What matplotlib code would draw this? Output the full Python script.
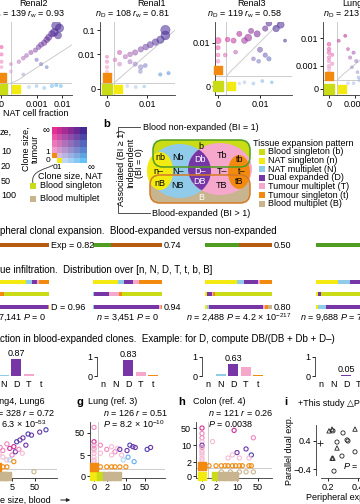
import numpy as np
import matplotlib.pyplot as plt
from matplotlib.patches import Ellipse, FancyBboxPatch, Rectangle, PathPatch
from matplotlib.path import Path

plt.rcParams['font.family'] = ['Liberation Sans', 'DejaVu Sans']
plt.rcParams['font.size'] = 6.5
plt.rcParams['mathtext.fontset'] = 'custom'
plt.rcParams['mathtext.rm'] = 'Liberation Sans'
plt.rcParams['mathtext.it'] = 'Liberation Sans:italic'
plt.rcParams['axes.linewidth'] = 0.6
plt.rcParams['axes.edgecolor'] = '#333333'
for a in ('xtick', 'ytick'):
    plt.rcParams[a + '.major.width'] = 0.6
    plt.rcParams[a + '.major.size'] = 2
    plt.rcParams[a + '.major.pad'] = 1.5
    plt.rcParams[a + '.labelsize'] = 6.5

W, H = 360, 504

# colours of the tissue expansion pattern
COL = {'n': '#f2ea10', 'N': '#90cbea', 'D': '#7636a6', 'T': '#f5a8cc',
       't': '#f28a10', 'b': '#c9dc16', 'B': '#c8b48e'}
GREEN, BROWN, GRAY = '#4f9d22', '#b65c12', '#cccccc'
PT = {'p': '#ef88bd', 'l': '#f5bcd6', 'm': '#d22f97', 'v': '#6c36a8',
      'u': '#4a40b0', 'b': '#62aef0', 'c': '#a9d5f2', 'o': '#f28a10',
      'k': '#c8b48e', 'g': '#c9dc16', 'y': '#f2ea10'}

# ---- panel a data: (NAT fraction, tumour fraction, blood clone size) ----
RENAL2_X = [0.006, 0.008, 0.005, 0.007, 0.004, 0.003, 0.0025, 0.002, 0.0015, 0.0012, 0.0009,
            0.0006, 0.0004, 0.0003, 0.0002, 0.001, 0.0015, 0.0025, 0, 0, 0, 0, 0, 0.0001,
            0.0001, 0.0003, 0.0005, 0.001, 0.002, 0.004, 0.006, 0.009]
RENAL2_Y = [0.15, 0.12, 0.08, 0.06, 0.07, 0.05, 0.04, 0.03, 0.025, 0.02, 0.015,
            0.012, 0.009, 0.007, 0.005, 0.006, 0.004, 0.003, 0.02, 0.01, 0.005, 0.003, 0.0015, 0.002,
            0.004, 0.0015, 0.0002, 0.0003, 0.0001, 0.0003, 0.0004, 0.0003]
RENAL2_S = [45, 35, 30, 25, 22, 20, 18, 16, 14, 12, 10, 10, 8, 8, 7, 6, 6, 5, 6, 6, 6, 5, 5, 5,
            5, 5, 5, 5, 5, 6, 6, 5]

RENAL1_X = [0.045, 0.045, 0.03, 0.02, 0.013, 0.009, 0.006, 0.0038, 0.0025, 0.0017, 0.0011,
            0.0007, 0.0011, 0.0025, 0.0038, 0.006, 0.0087, 0.0058, 0.0296, 0.058, 0.002, 0.004,
            0.008, 0, 0, 0, 0, 0.0003, 0]
RENAL1_Y = [0.1, 0.06, 0.04, 0.032, 0.025, 0.02, 0.016, 0.012, 0.01, 0.008, 0.012,
            0.006, 0.004, 0.005, 0.004, 0.003, 0.0035, 0.002, 0.0015, 0.0017, 0.0003, 0.0002,
            0.00025, 0.003, 0.005, 0.008, 0.002, 0.0015, 0.0012]
RENAL1_S = [45, 40, 28, 22, 20, 18, 15, 15, 12, 10, 10, 8, 8, 10, 10, 12, 8, 8, 6, 6, 5, 5,
            4, 6, 6, 5, 5, 5, 5]

RENAL3_X = [0.05, 0.035, 0.02, 0.015, 0.008, 0.005, 0.004, 0.003, 0.002, 0.0013, 0.0008,
            0, 0, 0, 0, 0.0006, 0.0015, 0.01, 0.015, 0.02, 0.009, 0.006, 0.07, 0.003,
            0.006, 0.012, 0.002, 0.025]
RENAL3_Y = [0.04, 0.03, 0.045, 0.03, 0.02, 0.025, 0.015, 0.012, 0.02, 0.012, 0.013,
            0.012, 0.007, 0.004, 0.0025, 0.004, 0.005, 0.006, 0.004, 0.003, 0.0025, 0.003,
            0.012, 0.0003, 0.0002, 0.0004, 0.0002, 0.0003]
RENAL3_S = [25, 22, 18, 15, 20, 14, 25, 18, 14, 14, 12, 20, 10, 8, 8, 8, 8, 14, 10, 10, 8, 8,
            5, 5, 5, 5, 4, 4]

LUNG_X = [0, 0, 0, 0, 0, 0, 0, 0, 0.0001, 0.0001, 0.0003, 0.0005, 0.0006, 0.0007, 0.0009,
          0.0011, 0.0008, 0.0012, 0.0013, 0.0006, 0.0009, 0.0014]
LUNG_Y = [0.006, 0.004, 0.003, 0.002, 0.0015, 0.001, 0.0008, 0.0006, 0.0025, 0.0012, 0.008,
          0.012, 0.004, 0.002, 0.003, 0.0015, 0.0009, 0.0006, 0.0004, 0.0002, 0.0002, 0.0003]
LUNG_S = [8, 8, 8, 7, 7, 7, 6, 6, 6, 6, 5, 5, 5, 6, 6, 6, 5, 5, 5, 5, 5, 5]

# ---- panel c/d/e data ----
EXP_FRACTION = [0.82, 0.74, 0.50, 0.33]
EXP_TEXT = ['Exp = 0.82', '0.74', '0.50', '']
DIST_KEYS = ['n', 'N', 'D', 'T', 't', 'b', 'B']
DIST_ROW1 = [[0.67, 0.087, 0.072, 0.03, 0.141, 0, 0],
             [0.36, 0.087, 0.13, 0.087, 0.336, 0, 0],
             [0.48, 0.10, 0.21, 0.03, 0.18, 0, 0],
             [0.32, 0.17, 0.25, 0.06, 0.20, 0, 0]]
DIST_ROW2 = [[0.06, 0.04, 0.12, 0.07, 0.06, 0.65, 0],
             [0.0, 0.015, 0.22, 0.145, 0.04, 0.58, 0],
             [0.03, 0.0, 0.075, 0.02, 0.025, 0.85, 0],
             [0.03, 0.0, 0.04, 0.0, 0.0, 0.93, 0]]
DIST_ROW3 = [[0.01, 0.01, 0.96, 0.005, 0.015, 0, 0],
             [0.005, 0.01, 0.94, 0.03, 0.015, 0, 0],
             [0.03, 0.03, 0.80, 0.03, 0.05, 0, 0.06],
             [0.03, 0.12, 0.80, 0.03, 0.02, 0, 0]]
D_TEXT = ['D = 0.96', '0.94', '0.80', '']
N_TEXT = ['$n$ = 7,141 $P$ = 0', '$n$ = 3,451 $P$ = 0',
          '$n$ = 2,488 $P$ = 4.2 × 10$^{-217}$', '$n$ = 9,688 $P$ = 7.0 × 10$^{-63}$']
E_KEYS = ['n', 'N', 'D', 'T', 't']
E_VALUES = [[0.01, 0.03, 0.87, 0.08, 0.02],
            [0.01, 0.01, 0.83, 0.20, 0.05],
            [0.01, 0.08, 0.63, 0.45, 0.05],
            [0.01, 0.02, 0.05, 0.01, 0.01]]
E_TEXT = ['0.87', '0.83', '0.63', '0.05']

# ---- bottom panels: (blood clone size, tumour clone size, colour key) ----
F_PTS = [(150, 70, 'u'), (80, 55, 'v'), (25, 45, 'u'), (35, 40, 'v'), (15, 30, 'v'), (11, 24, 'v'),
         (8, 20, 'u'), (20, 14, 'v'), (6, 12, 'm'), (4, 10, 'm'), (3, 16, 'p'), (2, 8, 'p'),
         (1.3, 6, 'l'), (2, 4, 'l'), (3, 3, 'l'), (5, 5, 'p'), (7, 7, 'v'), (10, 9, 'p'),
         (14, 6, 'l'), (1.5, 11, 'p'), (4, 3, 'c'), (6, 2.5, 'o'), (1.2, 1.5, 'o'), (2, 1.5, 'o'),
         (3, 1.5, 'o'), (45, 0.7, 'k')]
F_SQ = [(1, 0, 'g'), (2, 0, 'k'), (3, 0, 'k'), (1, 1.5, 'o')]
G_PTS = [(0, 90, 'p'), (0, 20, 'm'), (0, 14, 'p'), (0, 10, 'p'), (0, 8, 'l'), (0, 6, 'l'),
         (0, 4, 'l'), (0, 3, 'l'), (0, 2.5, 'l'), (1, 14, 'p'), (1, 6, 'l'), (2, 9, 'p'),
         (3, 12, 'l'), (4, 7, 'p'), (5, 10, 'l'), (6, 9, 'v'), (11, 8, 'v'), (14, 14, 'u'),
         (18, 12, 'v'), (22, 11, 'v'), (60, 9, 'u'), (80, 11, 'v'), (12, 4, 'b'), (8, 3, 'c'),
         (20, 2.5, 'b'), (1, 1.5, 'o'), (2, 1.5, 'o'), (3, 1.5, 'o'), (4, 1.5, 'o'),
         (6, 1.5, 'o'), (10, 1.5, 'o'), (3, 5, 'l'), (7, 5, 'l')]
G_SQ = [(0, 0, 'y'), (1, 0, 'g'), (2, 0, 'k'), (3, 0, 'k'), (5, 0, 'k'), (0, 1.5, 'o')]
H_PTS = [(0, 50, 'm'), (0, 30, 'p'), (0, 20, 'p'), (0, 14, 'l'), (0, 10, 'v'), (0, 8, 'p'),
         (0, 6, 'l'), (0, 5, 'l'), (0, 4, 'l'), (0, 3, 'l'), (0, 2.5, 'l'), (1.5, 14, 'l'),
         (8, 40, 'm'), (35, 20, 'p'), (10, 5, 'v'), (20, 7, 'v'), (30, 4, 'u'), (5, 3, 'l'),
         (7, 4, 'l'), (12, 3, 'l'), (25, 3, 'l'), (1, 1.5, 'o'), (2, 1.5, 'o'), (3, 1.5, 'o'),
         (4, 1.5, 'o'), (5, 1.5, 'o'), (7, 1.5, 'o'), (9, 1.5, 'o'), (12, 1.5, 'o'),
         (15, 1.5, 'o'), (25, 1.5, 'o'), (30, 1.5, 'o'), (3, 0.6, 'k'), (6, 0.6, 'k'),
         (12, 0.6, 'k'), (20, 0.6, 'k'), (35, 0.6, 'k')]
H_SQ = [(0, 0, 'y'), (2, 0, 'g'), (3, 0, 'k'), (5, 0, 'k'), (8, 0, 'k'), (0, 1.5, 'o')]

# ---- panel i: peripheral vs parallel dual expansion ----
I_TRI_X = [0.207, 0.227, 0.38, 0.26, 0.233, 0.227]
I_TRI_Y = [0.69, 0.74, 0.74, 0.20, -0.09, -0.09]
I_CIR_X = [0.233, 0.30, 0.26, 0.327, 0.333, 0.38, 0.293, 0.24]
I_CIR_Y = [0.69, 0.63, 0.37, 0.43, 0.40, 0.09, -0.03, -0.46]
I_PLUS = (0.147, 0.34)

fig = plt.figure(figsize=(3.6, 5.04), dpi=100)
ov = fig.add_axes([0, 0, 1, 1])
ov.set_xlim(0, W)
ov.set_ylim(H, 0)
ov.axis('off')


def box(x0, y0, x1, y1):
    ax = fig.add_axes([x0 / W, 1 - y1 / H, (x1 - x0) / W, (y1 - y0) / H])
    ax.patch.set_alpha(0)
    return ax


def T(x, y, s, **kw):
    kw.setdefault('va', 'center')
    return fig.text(x / W, 1 - y / H, s, **kw)


def tf(v, L, lsa):
    v = np.asarray(v, float)
    a = np.abs(v)
    return np.sign(v) * np.where(a <= L, a / L * lsa, lsa + np.log10(np.maximum(a, L) / L))


def tinv(t, L, lsa):
    a = abs(t)
    v = a / lsa * L if a <= lsa else L * 10 ** (a - lsa)
    return float(np.sign(t) * v)


def lims(cal, L, p0, p1, lsa):
    (v1, q1), (v2, q2) = cal
    t1, t2 = tf([v1, v2], L, lsa)
    k = (q2 - q1) / (t2 - t1)
    return tinv(t1 + (p0 - q1) / k, L, lsa), tinv(t1 + (p1 - q1) / k, L, lsa)


def mix(u, v):
    c00 = np.array([0.98, 0.90, 0.95])
    c01 = np.array([0.90, 0.18, 0.58])
    c10 = np.array([0.40, 0.76, 0.96])
    c11 = np.array([0.28, 0.16, 0.58])
    return (1 - u) * (1 - v) * c00 + (1 - u) * v * c01 + u * (1 - v) * c10 + u * v * c11


def symlog_axes(bx, Lx, Ly, lsx, lsy, xcal, ycal):
    ax = box(*bx)
    ax.set_xscale('symlog', linthresh=Lx, linscale=lsx)
    ax.set_yscale('symlog', linthresh=Ly, linscale=lsy)
    ax.set_xlim(*lims(xcal, Lx, bx[0], bx[2], lsx / 0.9))
    ax.set_ylim(*lims(ycal, Ly, bx[3], bx[1], lsy / 0.9))
    ax.spines[['top', 'right']].set_visible(False)
    ax.minorticks_off()
    return ax


def panel_a(bx, xs, ys, ss, Lx, Ly, xcal, ycal, xt, yt, thr, sq_y):
    ax = symlog_axes(bx, Lx, Ly, 0.5, 0.5, xcal, ycal)
    xm, ym = ax.get_xlim()[1], ax.get_ylim()[1]
    u = np.clip(tf(xs, Lx, 0.556) / tf(xm, Lx, 0.556) * 1.3, 0, 1)
    v = np.clip(tf(ys, Ly, 0.556) / tf(ym, Ly, 0.556) * 1.3, 0, 1)
    cols = [mix(a, b) for a, b in zip(u, v)]
    ax.axhline(thr[1], color=GRAY, lw=0.7, zorder=1)
    ax.axvline(thr[0], color=GRAY, lw=0.7, zorder=1)
    d = np.geomspace(thr[0], xm, 50)
    ax.plot(d, np.geomspace(thr[1], xm, 50), color=GRAY, lw=0.7, zorder=1)
    ax.scatter(xs, ys, s=ss, c=cols, alpha=0.55, lw=0.4, edgecolors=cols, zorder=2)
    ax.scatter([0, 0], [sq_y, 0], marker='s', s=[40, 55],
               c=[COL['t'], COL['b']], zorder=3, clip_on=False)
    ax.scatter([thr[0] * 1.6], [0], marker='s', s=40, c=[COL['n']], zorder=3, clip_on=False)
    ax.set_xticks([v for v, _ in xt], [s for _, s in xt])
    ax.set_yticks([v for v, _ in yt], [s for _, s in yt])
    return ax


panel_a((-40, 22, 72, 95), RENAL2_X, RENAL2_Y, RENAL2_S, 0.00015, 0.00137,
        ((0, 1.5), (0.01, 62)), ((0, 89), (0.1, 30)),
        [(0, '0'), (0.001, '0.001'), (0.01, '0.01')], [], (0.0001, 0.0006), 0.0012)
panel_a((100, 22, 175, 95), RENAL1_X, RENAL1_Y, RENAL1_S, 0.00137, 0.00137,
        ((0, 107), (0.01, 147)), ((0, 89), (0.1, 30)),
        [(0, '0'), (0.01, '0.01')], [(0, '0'), (0.01, '0.01'), (0.1, '0.1')],
        (0.0006, 0.0006), 0.0012)
panel_a((215, 22, 292, 95), RENAL3_X, RENAL3_Y, RENAL3_S, 0.00137, 0.00137,
        ((0, 218), (0.01, 260)), ((0, 86), (0.01, 43)),
        [(0, '0'), (0.01, '0.01')], [(0, '0'), (0.01, '0.01')], (0.0007, 0.0008), 0.0013)
panel_a((323, 22, 400, 95), LUNG_X, LUNG_Y, LUNG_S, 0.00054, 0.00054,
        ((0, 329), (0.001, 355)), ((0, 89), (0.01, 38)),
        [(0, '0'), (0.001, '0.001')], [(0, '0'), (0.001, '0.001'), (0.01, '0.01')],
        (0.00025, 0.0003), 0.00045)

T(33, 3, 'Renal2', ha='center')
T(65, 14, '$n_\\mathrm{D}$ = 139 $r_\\mathrm{w}$ = 0.93', ha='right')
T(152, 3, 'Renal1', ha='center')
T(170, 14, '$n_\\mathrm{D}$ = 108 $r_\\mathrm{w}$ = 0.81', ha='right')
T(251, 3, 'Renal3', ha='center')
T(282, 14, '$n_\\mathrm{D}$ = 119 $r_\\mathrm{w}$ = 0.58', ha='right')
T(342, 3, 'Lung1', ha='left')
T(323, 14, '$n_\\mathrm{D}$ = 213 $r_\\mathrm{w}$ = 0.76', ha='left')
T(3, 113, 'NAT cell fraction', ha='left')

# ---- clone size legend ----
T(0, 132, 'Clone si', ha='right')
T(0, 132, 'ze,', ha='left')
for lab, yy in zip(['10', '20', '50', '100'], [152, 167, 181, 196]):
    T(1, yy, lab, ha='left')

gx = [52, 57, 62, 68, 74, 80, 87]
gy = [163, 158, 153, 147, 140, 134, 127]
for i in range(6):
    for j in range(6):
        if i == 0 and j == 0:
            continue
        if i == 1 and j == 0:
            c = COL['t']
        elif i == 0 and j == 1:
            c = COL['n']
        else:
            c = mix(j / 5, i / 5)
        ov.add_patch(Rectangle((gx[j], gy[i + 1]), gx[j + 1] - gx[j], gy[i] - gy[i + 1],
                               fc=c, ec='none'))
T(46, 130, '∞', ha='center', fontsize=7)
T(50, 152, '1', ha='right', fontsize=6)
T(50, 161, '0', ha='right', fontsize=6)
T(57, 168, '01', ha='center', fontsize=6)
T(91, 167, '∞', ha='center', fontsize=7)
T(31, 149, 'Clone size,\ntumour', ha='center', rotation=90, linespacing=1.0)
T(70, 176, 'Clone size, NAT', ha='center')
ov.add_patch(PathPatch(Path([(33, 183), (30, 170), (48, 169), (53, 165)],
                            [Path.MOVETO, Path.CURVE4, Path.CURVE4, Path.CURVE4]),
                       fc='none', ec='#333333', lw=0.6))
ov.add_patch(Rectangle((30, 183), 6, 6, fc=COL['b'], ec='none'))
T(40, 186, 'Blood singleton', ha='left')
ov.add_patch(Rectangle((30, 196), 6, 6, fc=COL['B'], ec='none'))
T(40, 199, 'Blood multiplet', ha='left')

# ---- panel b: diagram ----
T(107, 124, 'b', ha='center', fontweight='bold', fontsize=8)
ov.add_patch(FancyBboxPatch((153, 140), 97, 27, boxstyle='round,pad=0,rounding_size=10',
                            fc=COL['b'], ec='none'))
ov.add_patch(FancyBboxPatch((150, 175), 100, 28, boxstyle='round,pad=0,rounding_size=10',
                            fc=COL['B'], ec='none'))
ov.add_patch(Ellipse((180, 171), 62, 54, fc=COL['N'], ec='none'))
ov.add_patch(Ellipse((160, 171), 26, 38, fc=COL['n'], ec='none'))
tp = Ellipse((220, 169), 64, 52, fc=COL['T'], ec='none')
ov.add_patch(tp)
dp = Ellipse((180, 171), 62, 54, fc=COL['D'], ec='none')
ov.add_patch(dp)
dp.set_clip_path(tp)
ov.add_patch(Ellipse((239, 172), 22, 34, fc=COL['t'], ec='none'))
ov.add_patch(FancyBboxPatch((153, 140), 97, 27, boxstyle='round,pad=0,rounding_size=10',
                            fc='none', ec=GREEN, lw=1.1))
ov.add_patch(FancyBboxPatch((150, 175), 100, 28, boxstyle='round,pad=0,rounding_size=10',
                            fc='none', ec='#d57a25', lw=1.1))
for s, x, y, c in [('b', 201, 146, 'k'), ('nb', 160, 158, 'k'), ('n–', 158, 171, 'k'),
                   ('nB', 160, 183, 'k'), ('Nb', 178, 157, 'k'), ('N–', 178, 171, 'k'),
                   ('NB', 178, 186, 'k'), ('Db', 200, 159, 'w'), ('D–', 200, 171, 'w'),
                   ('DB', 200, 182, 'w'), ('Tb', 222, 155, 'k'), ('T–', 222, 171, 'k'),
                   ('TB', 222, 186, 'k'), ('tb', 240, 160, 'k'), ('t–', 242, 171, 'k'),
                   ('tB', 239, 182, 'k'), ('B', 201, 197, 'w')]:
    T(x, y, s, ha='center', color=c)
T(121, 168, 'Associated (BI ≥ 1)', ha='center', rotation=90)
T(135, 163, 'Independent\n(BI = 0)', ha='center', rotation=90, linespacing=1.0)
ov.plot([118, 118, 140], [137, 127, 127], color='#333333', lw=0.6)
ov.plot([118, 118, 150], [203, 213, 213], color='#333333', lw=0.6)
T(143, 127, 'Blood non-expanded (BI = 1)', ha='left')
T(152, 213, 'Blood-expanded (BI > 1)', ha='left')
T(253, 143, 'Tissue expansion pattern', ha='left')
LEG = [('Blood singleton (b)', 'b'), ('NAT singleton (n)', 'n'), ('NAT multiplet (N)', 'N'),
       ('Dual expanded (D)', 'D'), ('Tumour multiplet (T)', 'T'),
       ('Tumour singleton (t)', 't'), ('Blood multiplet (B)', 'B')]
for i, (lab, k) in enumerate(LEG):
    yy = 152 + 8.6 * i
    ov.add_patch(Rectangle((259, yy - 3), 6, 6, fc=COL[k], ec='none'))
    T(268, yy, lab, ha='left')

# ---- rows c, d ----
T(0, 231, 'c  Peri', ha='right', fontsize=7)
T(0, 231, 'pheral clonal expansion.  Blood-expanded versus non-expanded', ha='left', fontsize=7)
T(0, 270, 'd  Tiss', ha='right', fontsize=7)
T(0, 270, 'ue infiltration.  Distribution over [n, N, D, T, t, b, B]', ha='left', fontsize=7)

COLX = [(-20, 49), (93, 162), (205, 272), (316, 385)]
for ci, (xa, xb) in enumerate(COLX):
    ax = box(xa, 238, xb, 312)
    ax.set_xlim(0, 1)
    ax.set_ylim(312, 238)
    ax.axis('off')
    ax.barh(245, 1 - EXP_FRACTION[ci], height=3.6, color=GREEN)
    ax.barh(245, EXP_FRACTION[ci], left=1 - EXP_FRACTION[ci], height=3.6, color=BROWN)
    for yy, row in zip([282, 294, 307], [DIST_ROW1, DIST_ROW2, DIST_ROW3]):
        left = 0
        for k, val in zip(DIST_KEYS, row[ci]):
            ax.barh(yy, val, left=left, height=3.6, color=COL[k])
            left += val
    T(xb + 2, 245, EXP_TEXT[ci], ha='left')
    T(xb + 2, 307, D_TEXT[ci], ha='left')
    T((xa + xb) / 2, 318, N_TEXT[ci], ha='center')

# ---- row e ----
T(0, 339, 'e  Fra', ha='right', fontsize=7)
T(0, 339, 'ction in blood-expanded clones.  Example: for D, compute DB/(DB + Db + D–)',
  ha='left', fontsize=7)
for ci, sx in enumerate([-15, 97, 202, 315]):
    ax = box(sx, 357, sx + 65, 376)
    ax.set_xlim(-0.5, -0.5 + 65 / 12.5)
    ax.set_ylim(0, 1)
    ax.bar(range(5), E_VALUES[ci], width=0.8, color=[COL[k] for k in E_KEYS])
    ax.spines[['top', 'right', 'bottom']].set_visible(False)
    ax.set_yticks([0, 1], ['0', '1'])
    ax.set_xticks(range(5), E_KEYS)
    ax.tick_params(axis='x', length=0, pad=3)
    ax.text(2, E_VALUES[ci][2] + 0.08, E_TEXT[ci], ha='center', va='bottom')

# ---- bottom panels ----
def panel_bottom(bx, pts, sqs, Lx, lsx, xcal, ycal, xt, yt, thr):
    ax = symlog_axes(bx, Lx, 2, lsx, 0.5, xcal, ycal)
    ax.axhline(thr[1], color=GRAY, lw=0.7, zorder=1)
    ax.axvline(thr[0], color=GRAY, lw=0.7, zorder=1)
    xs = [p[0] for p in pts]
    ys = [p[1] for p in pts]
    cs = [PT[p[2]] for p in pts]
    ax.scatter(xs, ys, s=9, facecolors='none', edgecolors=cs, lw=0.8, zorder=2)
    ax.scatter([q[0] for q in sqs], [q[1] for q in sqs], marker='s', s=30,
               c=[PT[q[2]] for q in sqs], zorder=3, clip_on=False)
    ax.set_xticks([v for v, _ in xt], [s for _, s in xt])
    ax.set_yticks([v for v, _ in yt], [s for _, s in yt])
    return ax


panel_bottom((-60, 422, 57, 478), F_PTS, F_SQ, 2, 0.42, ((5, 12), (50, 35)),
             ((0, 476), (50, 433)), [(0, '0'), (5, '5'), (50, '50')],
             [(0, '0'), (5, '5'), (50, '50')], (0.8, 1.2))
panel_bottom((90, 422, 165, 478), G_PTS, G_SQ, 2, 0.42, ((0, 94), (50, 145)),
             ((0, 476), (50, 433)), [(0, '0'), (2, '2'), (10, '10'), (50, '50')],
             [(0, '0'), (5, '5'), (50, '50')], (0.6, 1.1))
panel_bottom((196, 422, 272, 478), H_PTS, H_SQ, 2, 0.42, ((0, 202), (50, 258)),
             ((0, 476), (50, 428)), [(0, '0'), (2, '2'), (10, '10'), (50, '50')],
             [(0, '0'), (2, '2'), (10, '10'), (50, '50')], (0.8, 1.1))

T(45, 401, 'Lung4, Lung6', ha='right')
T(55, 413, '$n$ = 328 $r$ = 0.72', ha='right')
T(47, 424, '$P$ = 6.3 × 10$^{-53}$', ha='right')
T(0, 500, 'Clon', ha='right')
T(0, 500, 'e size, blood', ha='left')
ov.annotate('', xy=(73, 500), xytext=(58, 500),
            arrowprops=dict(arrowstyle='-|>', lw=0.7, color='#222222', mutation_scale=5))
T(80, 402, 'g', ha='center', fontweight='bold', fontsize=8)
T(88, 402, 'Lung (ref. 3)', ha='left')
T(103, 413, '$n$ = 126 $r$ = 0.51', ha='left')
T(103, 424, '$P$ = 8.2 × 10$^{-10}$', ha='left')
T(182, 402, 'h', ha='center', fontweight='bold', fontsize=8)
T(193, 402, 'Colon (ref. 4)', ha='left')
T(208, 413, '$n$ = 121 $r$ = 0.26', ha='left')
T(208, 424, '$P$ = 0.0038', ha='left')

# ---- panel i ----
ax = box(316, 425, 400, 478)
ax.set_xlim(0.12, 0.68)
ax.set_ylim(-0.657, 0.857)
ax.scatter(I_TRI_X, I_TRI_Y, marker='^', s=10, facecolors='none', edgecolors='#222222', lw=0.6)
ax.scatter(I_CIR_X, I_CIR_Y, marker='o', s=9, facecolors='none', edgecolors='#222222', lw=0.6)
ax.scatter([I_PLUS[0]], [I_PLUS[1]], marker='+', s=16, c='#222222', lw=0.6, clip_on=False)
ax.spines[['top', 'right']].set_visible(False)
ax.spines['left'].set_bounds(-0.57, 0.86)
ax.spines['bottom'].set_bounds(0.15, 0.68)
ax.set_yticks([-0.4, 0.4], ['−0.4', '0.4'])
ax.set_xticks([0.2, 0.4], ['0.2', '0.4'])
T(286, 402, 'i', ha='center', fontweight='bold', fontsize=8)
T(298, 403, '+This study △Previous studies', ha='left')
T(290, 450, 'Parallel dual exp.', ha='center', rotation=90)
T(306, 497, 'Peripheral expansion', ha='left')
T(343, 466, '$P$ = 0.01', ha='left')

fig.savefig('out.png', dpi=100)
